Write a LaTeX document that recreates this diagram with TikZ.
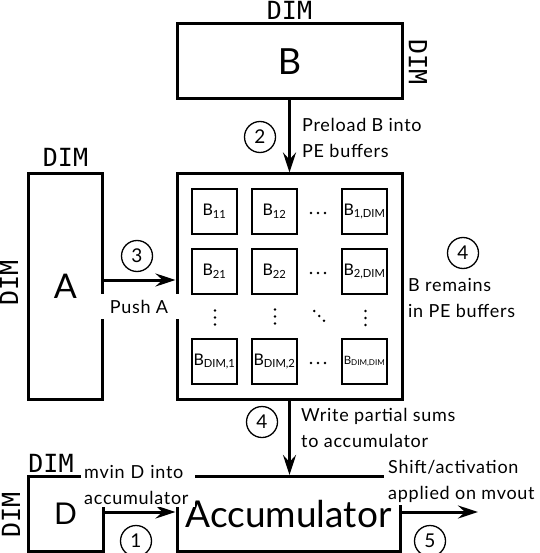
\documentclass[tikz,border=0pt]{standalone}
\usepackage{fontspec}
\setmainfont{Lato}[LetterSpace=4]
\newfontfamily\plainfont{Lato}
\setmonofont{DejaVu Sans Mono}
\usetikzlibrary{arrows.meta}
\begin{document}
\begin{tikzpicture}[x=1pt,y=-1pt,
  box/.style={draw,line width=3pt,inner sep=0pt},
  cell/.style={draw,line width=1.8pt,minimum size=45pt,inner sep=0pt,font=\plainfont\fontsize{16}{16}\selectfont},
  num/.style={draw,circle,line width=1.3pt,minimum size=31pt,inner sep=0pt,font=\plainfont\fontsize{19}{19}\selectfont},
  lbl/.style={align=left,font=\fontsize{18}{26}\selectfont,inner sep=2pt},
  wlbl/.style={lbl,fill=white},
  dimlbl/.style={font=\fontsize{25}{25}\selectfont\ttfamily,inner sep=0pt},
  pedot/.style={fill,circle,inner sep=0pt,minimum size=2.8pt},
  arr/.style={line width=3pt,-{Stealth[length=20pt,width=13pt,inset=7pt]}}
]
\useasboundingbox (0,0) rectangle (539,553);

% main boxes
\node[box,minimum width=225pt,minimum height=75pt,font=\plainfont\fontsize{36}{36}\selectfont] (B) at (289.5,61.5) {B};
\node[box,minimum width=74pt,minimum height=225pt,font=\plainfont\fontsize{34}{34}\selectfont] (A) at (65.5,286.5) {A};
\node[box,minimum width=225pt,minimum height=225pt] (M) at (289.5,286.5) {};
\node[box,minimum width=75pt,minimum height=75pt,font=\plainfont\fontsize{30}{30}\selectfont] (D) at (65.5,514) {D};
\node[box,minimum width=223pt,minimum height=75pt,font=\plainfont\fontsize{37}{37}\selectfont] (Acc) at (288.5,514) {Accumulator};

% DIM labels
\node[dimlbl] (dimB) at (289.5,10) {DIM};
\node[dimlbl,rotate=-90] (dimBr) at (418,62) {DIM};
\node[dimlbl] (dimA) at (65.5,157) {DIM};
\node[dimlbl,rotate=90] (dimAl) at (9,283) {DIM};
\node[dimlbl] (dimD) at (51,463) {DIM};
\node[dimlbl,rotate=90] (dimDl) at (11,515) {DIM};

% PE cells
\node[cell] (c11) at (214.5,211.5) {B\textsubscript{11}};
\node[cell] (c12) at (274.5,211.5) {B\textsubscript{12}};
\node[cell] (c13) at (364.5,211.5) {B\textsubscript{1,DIM}};
\node[cell] (c21) at (214.5,271.5) {B\textsubscript{21}};
\node[cell] (c22) at (274.5,271.5) {B\textsubscript{22}};
\node[cell] (c23) at (364.5,271.5) {B\textsubscript{2,DIM}};
\node[cell] (c41) at (214.5,361.5) {B\textsubscript{DIM,1}};
\node[cell] (c42) at (274.5,361.5) {B\textsubscript{DIM,2}};
\node[cell,font=\plainfont\fontsize{11.5}{11.5}\selectfont] (c43) at (364.5,361.5) {B\textsubscript{DIM,DIM}};

% ellipsis dots
\foreach \y in {213,273,363} {
  \foreach \x in {311,318,325} \node[pedot] at (\x,\y) {};
}
\foreach \x/\s in {215/0,275/-1,365.5/0.5} {
  \foreach \y in {310.5,317.5,324.5} \node[pedot] at (\x,\y+\s) {};
}
\foreach \x/\y in {314.3/311,319.3/316,324/320.7} \node[pedot] at (\x,\y) {};

% arrows
\draw[arr] (B.south) -- (M.north);
\draw[arr] ([yshift=6.5pt]A.east) -- ([yshift=6.5pt]M.west);
\draw[arr] (M.south) -- (M.south |- Acc.north);
\draw[arr] ([yshift=2pt]D.east) -- ([yshift=2pt]Acc.west);
\coordinate (out) at (478,512);
\draw[arr] ([yshift=2pt]Acc.east) -- (out);

% step numbers
\node[num] (n2) at (260,137) {2};
\node[num] (n3) at (137,256) {3};
\node[num] (n4a) at (463,253) {4};
\node[num] (n4b) at (262,422) {4};
\node[num] (n1) at (136,541) {1};
\node[num] (n5) at (430,541) {5};

% labels
\node[lbl,anchor=west] (lpre) at (300,138) {Preload B into\\PE buffers};
\node[lbl,fill=white,minimum width=80pt,minimum height=25pt,inner sep=0pt] (lpush) at (139,306.5) {Push A};
\node[lbl,anchor=west] (lrem) at (406,298) {B remains\\in PE buffers};
\node[lbl,anchor=west] (lwr) at (299,428) {Write partial sums\\to accumulator};
\node[wlbl,anchor=south west,text width=108pt,inner xsep=3pt] (lmv) at (81,507) {mvin D into\\accumulator};
\node[wlbl,anchor=south west,inner xsep=4pt] (lsh) at (384,505) {Shift/activation\\applied on mvout};
\end{tikzpicture}
\end{document}
